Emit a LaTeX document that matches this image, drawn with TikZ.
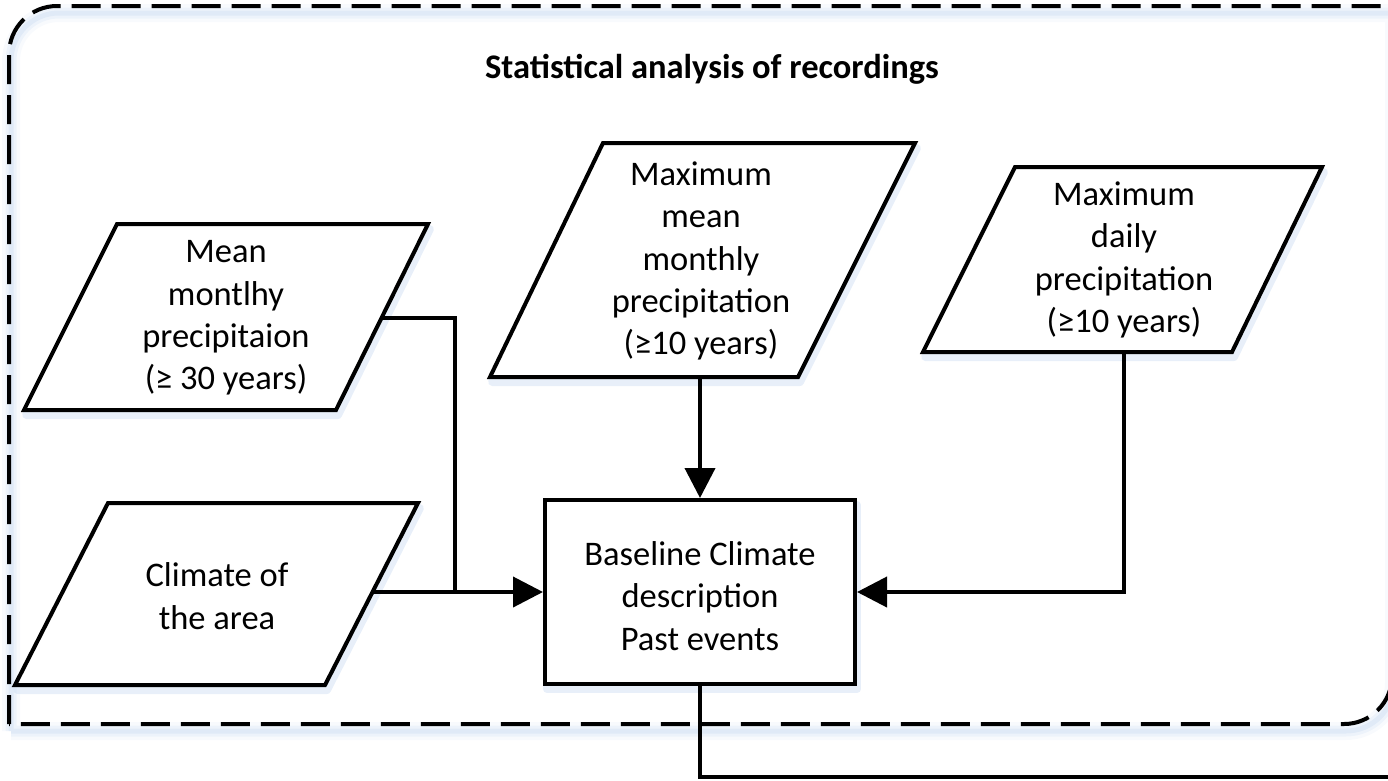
\documentclass[tikz,border=0pt]{standalone}
\usepackage{fontspec}
\setmainfont{Carlito}
\usetikzlibrary{arrows.meta}
\definecolor{glow}{RGB}{188,210,238}
\begin{document}
\begin{tikzpicture}[x=1pt,y=-1pt,
  databox/.style={draw=black, line width=4pt, line join=miter, fill=white},
  drop/.style={draw=glow, line width=8pt, opacity=0.35, line join=round},
  txt/.style={align=center, inner sep=0pt, font=\fontsize{34.5}{42.3}\selectfont},
  wire/.style={draw=black, line width=4pt},
  arrow/.style={wire, -{Triangle[length=30pt,width=30pt]}},
  frame/.style={draw=black, line width=4pt, dash pattern=on 29pt off 11pt}
]
\useasboundingbox (0,0) rectangle (1388,780);
\clip (0,0) rectangle (1388,780);

% soft glow under the dashed group outline
\foreach \w/\o in {18/0.10, 11/0.18, 5/0.28}
  \draw[glow, line width=\w pt, opacity=\o, shift={(2,7)}]
    (9,724) -- (9,54) arc[start angle=180, end angle=270, radius=48]
    -- (1392,6) -- (1392,676) arc[start angle=0, end angle=90, radius=48] -- (9,724);

% dashed group outline: rounded top-left and bottom-right corners
\draw[frame] (9,724) -- (9,54) arc[start angle=180, end angle=270, radius=48]
  -- (1392,6) -- (1392,676) arc[start angle=0, end angle=90, radius=48] -- (9,724);

% data parallelograms (shadow, then shape)
\draw[drop, shift={(2,5)}] (117,224) -- (428,224) -- (336,410) -- (24,410) -- cycle;
\draw[databox] (117,224) -- (428,224) -- (336,410) -- (24,410) -- cycle;

\draw[drop, shift={(2,5)}] (603,143) -- (915,143) -- (798,377) -- (490,377) -- cycle;
\draw[databox] (603,143) -- (915,143) -- (798,377) -- (490,377) -- cycle;

\draw[drop, shift={(2,5)}] (1015,167) -- (1322,167) -- (1232,352) -- (923,352) -- cycle;
\draw[databox] (1015,167) -- (1322,167) -- (1232,352) -- (923,352) -- cycle;

\draw[drop, shift={(2,5)}] (108,503) -- (418,503) -- (325,685) -- (15,685) -- cycle;
\draw[databox] (108,503) -- (418,503) -- (325,685) -- (15,685) -- cycle;

% process box
\draw[drop] (547,505) rectangle (857,689);
\node[databox, minimum width=310pt, minimum height=184pt] (base) at (700,592) {};
\node[txt] (basetext) at (700,596) {Baseline Climate\\description\\Past events};

% title and texts
\node[txt, font=\fontsize{34.5}{42.3}\selectfont\bfseries, anchor=base] (title) at (712,78)
  {Statistical analysis of recordings};
\node[txt] (mean) at (226,318) {Mean\\montlhy\\precipitaion\\(≥ 30 years)};
\node[txt] (maxmean) at (701,261) {Maximum\\mean\\monthly\\precipitation\\(≥10 years)};
\node[txt] (maxday) at (1124,260) {Maximum\\daily\\precipitation\\(≥10 years)};
\node[txt] (climate) at (217,596) {Climate of\\the area};

% connector end points on the slanted sides and beyond the frame
\coordinate (mean-out) at (382,318);
\coordinate (clim-out) at (372,592);
\coordinate (join) at (455,592);
\coordinate (maxmean-out) at (700,377);
\coordinate (maxday-out) at (1124,352);
\coordinate (exit) at (1400,777);

% connectors
\draw[wire] (mean-out) -| (join);
\draw[arrow] (clim-out) -- (base.west);
\draw[arrow] (maxmean-out) -- (base.north);
\draw[arrow] (maxday-out) |- (base.east);
\draw[wire] (base.south) |- (exit);
\end{tikzpicture}
\end{document}
